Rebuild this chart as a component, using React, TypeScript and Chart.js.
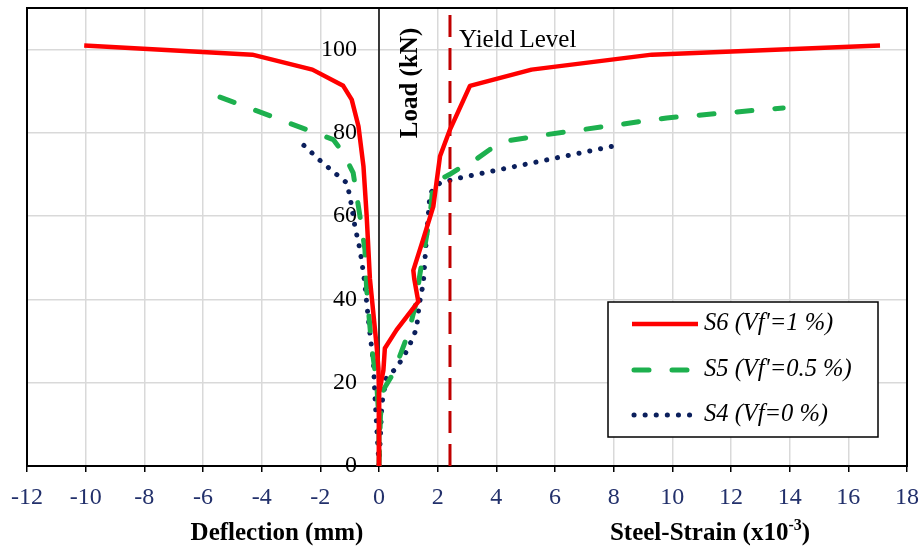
import React, { useEffect, useRef } from 'react';
import { Chart, registerables } from 'chart.js';

Chart.register(...registerables);

// S6 (Vf'=1 %) — deflection branch (far end to origin) and steel-strain branch
const s6DefX = [-10.05, -4.32, -2.27, -1.22, -0.93, -0.7, -0.53, -0.42, -0.31, -0.08, -0.02, 0, 0];
const s6DefY = [101, 98.8, 95.2, 91.3, 88, 81.6, 72, 60, 45, 28.7, 23.5, 17.5, 0];
const s6StrX = [0, 0, 0.15, 0.2, 0.6, 1.34, 1.2, 1.17, 1.5, 1.85, 2.08, 2.42, 3.1, 5.2, 9.3, 17.08];
const s6StrY = [0, 17.5, 23, 28.3, 32.7, 39.5, 45, 47, 54.3, 62.3, 74.4, 80.8, 91.3, 95.2, 98.8, 101];

// S5 (Vf'=0.5 %)
const s5DefX = [-5.42, -1.56, -1.22, -0.88, -0.65, -0.48, -0.42, -0.25, -0.08, 0, 0];
const s5DefY = [88.6, 78.4, 75.2, 70.4, 60, 52, 42.3, 28.7, 19.9, 11, 0];
const s5StrX = [0, 0.05, 0.15, 0.49, 1.0, 1.23, 1.4, 1.74, 1.85, 2.4, 2.76, 3.22, 3.78, 4.3, 5.72, 9.81, 13.78];
const s5StrY = [0, 12, 18.3, 22.3, 31.9, 38.3, 46.3, 60, 68, 70, 71.6, 73.2, 76, 78, 79.6, 83.6, 86];

// S4 (Vf=0 %)
const s4DefX = [-2.56, -1.95, -1.1, -0.99, -0.82, -0.65, -0.53, -0.48, -0.36, -0.19, -0.14, -0.05, 0];
const s4DefY = [77, 73, 68, 64.7, 57.5, 52, 46.3, 43.5, 35, 24.7, 16.7, 6, 0];
const s4StrX = [0, 0.1, 0.26, 0.6, 1.0, 1.28, 1.37, 1.51, 1.63, 1.74, 2.08, 2.76, 8.1];
const s4StrY = [0, 15, 21.5, 23.5, 28.3, 33, 38.7, 43.9, 56, 65.5, 68, 69.2, 77];

// Yield level
const yieldX = [2.42, 2.42];
const yieldY = [0, 110];

const seriesNames = ["S6 (Vf'=1 %)", "S5 (Vf'=0.5 %)", 'S4 (Vf=0 %)'];
const xMin = -12;
const xMax = 18;
const xStep = 2;
const yMin = 0;
const yMax = 110;
const yStep = 20;

const RED = '#FF0000';
const GREEN = '#1DB04E';
const NAVY = '#0B1F5C';
const DARKRED = '#C00000';
const TICKNAVY = '#22306B';
const SERIF = '"Liberation Serif", "Times New Roman", serif';

// plot area (pixels)
const AREA = { left: 27, top: 8, right: 907, bottom: 466 };

const pts = (xs: number[], ys: number[]) => xs.map((x, i) => ({ x, y: ys[i] }));

const styles = {
  s6: { borderColor: RED, borderWidth: 4.5, borderDash: [] as number[], borderCapStyle: 'butt' },
  s5: { borderColor: GREEN, borderWidth: 5, borderDash: [15, 23], borderCapStyle: 'round' },
  s4: { borderColor: NAVY, borderWidth: 5, borderDash: [0.1, 10.9], borderCapStyle: 'round' },
};

const decor = {
  id: 'decor',
  beforeDatasetsDraw(chart: any) {
    const { ctx, chartArea: a, scales } = chart;
    const x0 = scales.x.getPixelForValue(0);
    ctx.save();
    // y tick labels just left of the zero line
    ctx.fillStyle = '#000';
    ctx.font = `24px ${SERIF}`;
    ctx.textAlign = 'right';
    ctx.textBaseline = 'middle';
    scales.y.ticks.forEach((t: any) => {
      ctx.fillText(String(t.value), x0 - 22, scales.y.getPixelForValue(t.value));
    });
    ctx.strokeStyle = '#000';
    ctx.lineWidth = 1.5;
    ctx.beginPath();
    ctx.moveTo(x0, a.top);
    ctx.lineTo(x0, a.bottom);
    ctx.stroke();
    ctx.lineWidth = 2;
    ctx.strokeRect(a.left, a.top, a.right - a.left, a.bottom - a.top);
    ctx.restore();
  },
  afterDraw(chart: any) {
    const { ctx } = chart;
    ctx.save();
    ctx.fillStyle = '#000';
    // Load (kN)
    ctx.save();
    ctx.translate(411, 83);
    ctx.rotate(-Math.PI / 2);
    ctx.font = `bold 25px ${SERIF}`;
    ctx.textAlign = 'center';
    ctx.textBaseline = 'middle';
    ctx.fillText('Load (kN)', 0, 0);
    ctx.restore();
    // Yield Level
    ctx.font = `25px ${SERIF}`;
    ctx.textAlign = 'left';
    ctx.textBaseline = 'alphabetic';
    ctx.fillText('Yield Level', 459, 47);
    // Axis titles
    ctx.font = `bold 25px ${SERIF}`;
    ctx.textAlign = 'center';
    ctx.fillText('Deflection (mm)', 277, 540);
    const t1 = 'Steel-Strain (x10';
    const sup = '-3';
    const t2 = ')';
    ctx.font = `bold 25px ${SERIF}`;
    const w1 = ctx.measureText(t1).width;
    const w3 = ctx.measureText(t2).width;
    ctx.font = `bold 16px ${SERIF}`;
    const w2 = ctx.measureText(sup).width;
    let sx = 710 - (w1 + w2 + w3) / 2;
    ctx.textAlign = 'left';
    ctx.font = `bold 25px ${SERIF}`;
    ctx.fillText(t1, sx, 540);
    sx += w1;
    ctx.font = `bold 16px ${SERIF}`;
    ctx.fillText(sup, sx, 530);
    sx += w2;
    ctx.font = `bold 25px ${SERIF}`;
    ctx.fillText(t2, sx, 540);

    // Legend
    const lx = 608, ly = 302, lw = 270, lh = 135;
    ctx.fillStyle = '#fff';
    ctx.fillRect(lx, ly, lw, lh);
    ctx.strokeStyle = '#000';
    ctx.lineWidth = 1.5;
    ctx.strokeRect(lx, ly, lw, lh);
    const rows = [styles.s6, styles.s5, styles.s4];
    const rowY = [324, 370, 415];
    rows.forEach((st, i) => {
      ctx.save();
      ctx.strokeStyle = st.borderColor;
      ctx.lineWidth = st.borderWidth;
      ctx.lineCap = st.borderCapStyle;
      if (i === 1) ctx.setLineDash([15, 23]);
      else if (i === 2) ctx.setLineDash([0.1, 11]);
      ctx.beginPath();
      if (i === 0) {
        ctx.moveTo(632, rowY[i]);
        ctx.lineTo(698, rowY[i]);
      } else {
        ctx.moveTo(634, rowY[i]);
        ctx.lineTo(692, rowY[i]);
      }
      ctx.stroke();
      ctx.restore();
      ctx.fillStyle = '#000';
      ctx.font = `italic 24.5px ${SERIF}`;
      ctx.textAlign = 'left';
      ctx.textBaseline = 'middle';
      ctx.fillText(seriesNames[i], 704, rowY[i]);
    });
    ctx.restore();
  },
};

export default function App() {
  const ref = useRef<HTMLCanvasElement>(null);
  useEffect(() => {
    if (!ref.current) return;
    const line = (data: any, st: any) => ({
      data,
      borderColor: st.borderColor,
      borderWidth: st.borderWidth,
      borderDash: st.borderDash,
      borderCapStyle: st.borderCapStyle,
      borderJoinStyle: 'round',
      pointRadius: 0,
      tension: 0,
      fill: false,
    });
    const chart = new Chart(ref.current, {
      type: 'line',
      data: {
        datasets: [
          { label: seriesNames[0], ...line(pts(s6DefX, s6DefY), styles.s6) },
          { label: seriesNames[0] + ' strain', ...line(pts(s6StrX, s6StrY), styles.s6) },
          { label: 'Yield Level', ...line(pts(yieldX, yieldY), { borderColor: DARKRED, borderWidth: 3, borderDash: [22, 11], borderCapStyle: 'butt' }) },
          { label: seriesNames[1], ...line(pts(s5DefX, s5DefY), styles.s5) },
          { label: seriesNames[1] + ' strain', ...line(pts(s5StrX, s5StrY), styles.s5) },
          { label: seriesNames[2], ...line(pts(s4DefX, s4DefY), styles.s4) },
          { label: seriesNames[2] + ' strain', ...line(pts(s4StrX, s4StrY), styles.s4) },
        ] as any,
      },
      options: {
        animation: false,
        responsive: false,
        layout: { padding: { left: AREA.left, right: 921 - AREA.right, top: AREA.top, bottom: 0 } },
        plugins: { legend: { display: false }, tooltip: { enabled: false } },
        scales: {
          x: {
            type: 'linear',
            position: 'bottom',
            min: xMin,
            max: xMax,
            ticks: { stepSize: xStep, color: TICKNAVY, font: { family: SERIF, size: 24 }, padding: 11, maxRotation: 0 },
            grid: { color: '#D9D9D9', lineWidth: 1.5, tickColor: '#000', tickLength: 6, drawTicks: true },
            border: { display: true, color: '#000', width: 2 },
            afterFit: (s: any) => {
              s.height = 549 - AREA.bottom;
              s.paddingLeft = 0;
              s.paddingRight = 0;
              s.paddingTop = 0;
              s.paddingBottom = 0;
            },
          },
          y: {
            type: 'linear',
            position: { x: 0 } as any,
            min: yMin,
            max: yMax,
            ticks: { stepSize: yStep, includeBounds: false, display: false } as any,
            grid: { color: '#D9D9D9', lineWidth: 1.5, drawTicks: false },
            border: { display: false },
            afterBuildTicks: (s: any) => { s.ticks = s.ticks.filter((t: any) => t.value % yStep === 0); },
            afterFit: (s: any) => {
              s.paddingLeft = 0;
              s.paddingRight = 0;
              s.paddingTop = 0;
              s.paddingBottom = 0;
            },
          },
        },
      } as any,
      plugins: [decor],
    });
    return () => chart.destroy();
  }, []);
  return (
    <div style={{ position: 'absolute', left: 0, top: 0, width: 921, height: 549, background: '#fff' }}>
      <canvas ref={ref} width={921} height={549} />
    </div>
  );
}
